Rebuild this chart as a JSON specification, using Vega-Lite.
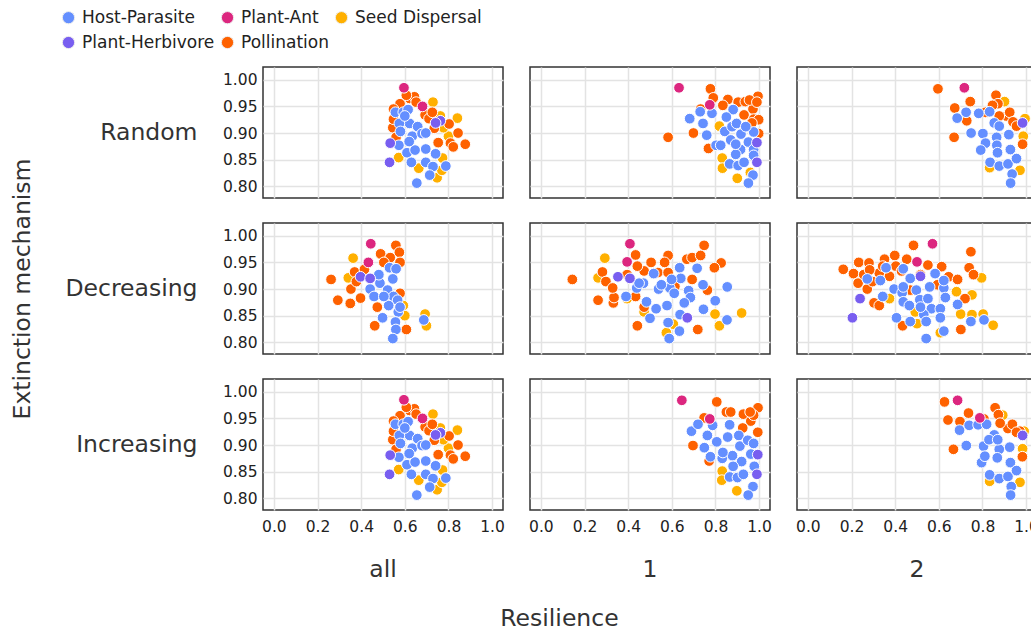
{
"$schema": "https://vega.github.io/schema/vega-lite/v6.json",
"background": "white",
"padding": {"left": 10, "top": 9, "right": 0, "bottom": 2},
"title": {"text": "Resilience", "orient": "bottom", "anchor": "middle", "dx": 35, "offset": 26, "font": "DejaVu Sans", "fontSize": 23.5, "fontWeight": "normal", "color": "#333"},
"datasets": {"pts": [
{"mech":"Random","col":"all","type":"Seed Dispersal","x":0.729,"y":0.958},
{"mech":"Random","col":"all","type":"Seed Dispersal","x":0.572,"y":0.854},
{"mech":"Random","col":"all","type":"Seed Dispersal","x":0.841,"y":0.928},
{"mech":"Random","col":"all","type":"Seed Dispersal","x":0.763,"y":0.932},
{"mech":"Random","col":"all","type":"Seed Dispersal","x":0.80,"y":0.894},
{"mech":"Random","col":"all","type":"Seed Dispersal","x":0.773,"y":0.853},
{"mech":"Random","col":"all","type":"Seed Dispersal","x":0.664,"y":0.834},
{"mech":"Random","col":"all","type":"Seed Dispersal","x":0.748,"y":0.816},
{"mech":"Random","col":"all","type":"Seed Dispersal","x":0.77,"y":0.83},
{"mech":"Random","col":"all","type":"Seed Dispersal","x":0.777,"y":0.91},
{"mech":"Random","col":"all","type":"Pollination","x":0.578,"y":0.955},
{"mech":"Random","col":"all","type":"Pollination","x":0.622,"y":0.965},
{"mech":"Random","col":"all","type":"Pollination","x":0.644,"y":0.968},
{"mech":"Random","col":"all","type":"Pollination","x":0.607,"y":0.971},
{"mech":"Random","col":"all","type":"Pollination","x":0.652,"y":0.958},
{"mech":"Random","col":"all","type":"Pollination","x":0.548,"y":0.945},
{"mech":"Random","col":"all","type":"Pollination","x":0.693,"y":0.934},
{"mech":"Random","col":"all","type":"Pollination","x":0.803,"y":0.917},
{"mech":"Random","col":"all","type":"Pollination","x":0.844,"y":0.90},
{"mech":"Random","col":"all","type":"Pollination","x":0.877,"y":0.879},
{"mech":"Random","col":"all","type":"Pollination","x":0.809,"y":0.881},
{"mech":"Random","col":"all","type":"Pollination","x":0.822,"y":0.874},
{"mech":"Random","col":"all","type":"Pollination","x":0.753,"y":0.882},
{"mech":"Random","col":"all","type":"Pollination","x":0.545,"y":0.91},
{"mech":"Random","col":"all","type":"Pollination","x":0.548,"y":0.926},
{"mech":"Random","col":"all","type":"Pollination","x":0.711,"y":0.927},
{"mech":"Random","col":"all","type":"Pollination","x":0.735,"y":0.909},
{"mech":"Random","col":"all","type":"Pollination","x":0.56,"y":0.892},
{"mech":"Random","col":"all","type":"Pollination","x":0.726,"y":0.939},
{"mech":"Random","col":"all","type":"Host-Parasite","x":0.557,"y":0.939},
{"mech":"Random","col":"all","type":"Host-Parasite","x":0.593,"y":0.939},
{"mech":"Random","col":"all","type":"Host-Parasite","x":0.615,"y":0.944},
{"mech":"Random","col":"all","type":"Host-Parasite","x":0.622,"y":0.918},
{"mech":"Random","col":"all","type":"Host-Parasite","x":0.575,"y":0.918},
{"mech":"Random","col":"all","type":"Host-Parasite","x":0.58,"y":0.903},
{"mech":"Random","col":"all","type":"Host-Parasite","x":0.659,"y":0.912},
{"mech":"Random","col":"all","type":"Host-Parasite","x":0.634,"y":0.894},
{"mech":"Random","col":"all","type":"Host-Parasite","x":0.679,"y":0.899},
{"mech":"Random","col":"all","type":"Host-Parasite","x":0.696,"y":0.90},
{"mech":"Random","col":"all","type":"Host-Parasite","x":0.573,"y":0.877},
{"mech":"Random","col":"all","type":"Host-Parasite","x":0.61,"y":0.863},
{"mech":"Random","col":"all","type":"Host-Parasite","x":0.647,"y":0.868},
{"mech":"Random","col":"all","type":"Host-Parasite","x":0.696,"y":0.87},
{"mech":"Random","col":"all","type":"Host-Parasite","x":0.741,"y":0.861},
{"mech":"Random","col":"all","type":"Host-Parasite","x":0.63,"y":0.845},
{"mech":"Random","col":"all","type":"Host-Parasite","x":0.696,"y":0.845},
{"mech":"Random","col":"all","type":"Host-Parasite","x":0.729,"y":0.837},
{"mech":"Random","col":"all","type":"Host-Parasite","x":0.788,"y":0.838},
{"mech":"Random","col":"all","type":"Host-Parasite","x":0.714,"y":0.821},
{"mech":"Random","col":"all","type":"Host-Parasite","x":0.655,"y":0.806},
{"mech":"Random","col":"all","type":"Host-Parasite","x":0.62,"y":0.884},
{"mech":"Random","col":"all","type":"Host-Parasite","x":0.60,"y":0.932},
{"mech":"Random","col":"all","type":"Plant-Ant","x":0.596,"y":0.985},
{"mech":"Random","col":"all","type":"Plant-Ant","x":0.681,"y":0.95},
{"mech":"Random","col":"all","type":"Plant-Herbivore","x":0.763,"y":0.923},
{"mech":"Random","col":"all","type":"Plant-Herbivore","x":0.741,"y":0.919},
{"mech":"Random","col":"all","type":"Plant-Herbivore","x":0.533,"y":0.881},
{"mech":"Random","col":"all","type":"Plant-Herbivore","x":0.53,"y":0.845},

{"mech":"Increasing","col":"all","type":"Seed Dispersal","x":0.729,"y":0.958},
{"mech":"Increasing","col":"all","type":"Seed Dispersal","x":0.572,"y":0.854},
{"mech":"Increasing","col":"all","type":"Seed Dispersal","x":0.841,"y":0.928},
{"mech":"Increasing","col":"all","type":"Seed Dispersal","x":0.763,"y":0.932},
{"mech":"Increasing","col":"all","type":"Seed Dispersal","x":0.80,"y":0.894},
{"mech":"Increasing","col":"all","type":"Seed Dispersal","x":0.773,"y":0.853},
{"mech":"Increasing","col":"all","type":"Seed Dispersal","x":0.664,"y":0.834},
{"mech":"Increasing","col":"all","type":"Seed Dispersal","x":0.748,"y":0.816},
{"mech":"Increasing","col":"all","type":"Seed Dispersal","x":0.77,"y":0.83},
{"mech":"Increasing","col":"all","type":"Seed Dispersal","x":0.777,"y":0.91},
{"mech":"Increasing","col":"all","type":"Pollination","x":0.578,"y":0.955},
{"mech":"Increasing","col":"all","type":"Pollination","x":0.622,"y":0.965},
{"mech":"Increasing","col":"all","type":"Pollination","x":0.644,"y":0.968},
{"mech":"Increasing","col":"all","type":"Pollination","x":0.607,"y":0.971},
{"mech":"Increasing","col":"all","type":"Pollination","x":0.652,"y":0.958},
{"mech":"Increasing","col":"all","type":"Pollination","x":0.548,"y":0.945},
{"mech":"Increasing","col":"all","type":"Pollination","x":0.693,"y":0.934},
{"mech":"Increasing","col":"all","type":"Pollination","x":0.803,"y":0.917},
{"mech":"Increasing","col":"all","type":"Pollination","x":0.844,"y":0.90},
{"mech":"Increasing","col":"all","type":"Pollination","x":0.877,"y":0.879},
{"mech":"Increasing","col":"all","type":"Pollination","x":0.809,"y":0.881},
{"mech":"Increasing","col":"all","type":"Pollination","x":0.822,"y":0.874},
{"mech":"Increasing","col":"all","type":"Pollination","x":0.753,"y":0.882},
{"mech":"Increasing","col":"all","type":"Pollination","x":0.545,"y":0.91},
{"mech":"Increasing","col":"all","type":"Pollination","x":0.548,"y":0.926},
{"mech":"Increasing","col":"all","type":"Pollination","x":0.711,"y":0.927},
{"mech":"Increasing","col":"all","type":"Pollination","x":0.735,"y":0.909},
{"mech":"Increasing","col":"all","type":"Pollination","x":0.56,"y":0.892},
{"mech":"Increasing","col":"all","type":"Pollination","x":0.726,"y":0.939},
{"mech":"Increasing","col":"all","type":"Host-Parasite","x":0.557,"y":0.939},
{"mech":"Increasing","col":"all","type":"Host-Parasite","x":0.593,"y":0.939},
{"mech":"Increasing","col":"all","type":"Host-Parasite","x":0.615,"y":0.944},
{"mech":"Increasing","col":"all","type":"Host-Parasite","x":0.622,"y":0.918},
{"mech":"Increasing","col":"all","type":"Host-Parasite","x":0.575,"y":0.918},
{"mech":"Increasing","col":"all","type":"Host-Parasite","x":0.58,"y":0.903},
{"mech":"Increasing","col":"all","type":"Host-Parasite","x":0.659,"y":0.912},
{"mech":"Increasing","col":"all","type":"Host-Parasite","x":0.634,"y":0.894},
{"mech":"Increasing","col":"all","type":"Host-Parasite","x":0.679,"y":0.899},
{"mech":"Increasing","col":"all","type":"Host-Parasite","x":0.696,"y":0.90},
{"mech":"Increasing","col":"all","type":"Host-Parasite","x":0.573,"y":0.877},
{"mech":"Increasing","col":"all","type":"Host-Parasite","x":0.61,"y":0.863},
{"mech":"Increasing","col":"all","type":"Host-Parasite","x":0.647,"y":0.868},
{"mech":"Increasing","col":"all","type":"Host-Parasite","x":0.696,"y":0.87},
{"mech":"Increasing","col":"all","type":"Host-Parasite","x":0.741,"y":0.861},
{"mech":"Increasing","col":"all","type":"Host-Parasite","x":0.63,"y":0.845},
{"mech":"Increasing","col":"all","type":"Host-Parasite","x":0.696,"y":0.845},
{"mech":"Increasing","col":"all","type":"Host-Parasite","x":0.729,"y":0.837},
{"mech":"Increasing","col":"all","type":"Host-Parasite","x":0.788,"y":0.838},
{"mech":"Increasing","col":"all","type":"Host-Parasite","x":0.714,"y":0.821},
{"mech":"Increasing","col":"all","type":"Host-Parasite","x":0.655,"y":0.806},
{"mech":"Increasing","col":"all","type":"Host-Parasite","x":0.62,"y":0.884},
{"mech":"Increasing","col":"all","type":"Host-Parasite","x":0.60,"y":0.932},
{"mech":"Increasing","col":"all","type":"Plant-Ant","x":0.596,"y":0.985},
{"mech":"Increasing","col":"all","type":"Plant-Ant","x":0.681,"y":0.95},
{"mech":"Increasing","col":"all","type":"Plant-Herbivore","x":0.763,"y":0.923},
{"mech":"Increasing","col":"all","type":"Plant-Herbivore","x":0.741,"y":0.919},
{"mech":"Increasing","col":"all","type":"Plant-Herbivore","x":0.533,"y":0.881},
{"mech":"Increasing","col":"all","type":"Plant-Herbivore","x":0.53,"y":0.845},

{"mech":"Random","col":"1","type":"Seed Dispersal","x":0.831,"y":0.853},
{"mech":"Random","col":"1","type":"Seed Dispersal","x":0.832,"y":0.834},
{"mech":"Random","col":"1","type":"Seed Dispersal","x":0.9,"y":0.815},
{"mech":"Random","col":"1","type":"Seed Dispersal","x":0.818,"y":0.913},
{"mech":"Random","col":"1","type":"Seed Dispersal","x":0.96,"y":0.826},
{"mech":"Random","col":"1","type":"Pollination","x":0.583,"y":0.892},
{"mech":"Random","col":"1","type":"Pollination","x":0.699,"y":0.90},
{"mech":"Random","col":"1","type":"Pollination","x":0.777,"y":0.983},
{"mech":"Random","col":"1","type":"Pollination","x":0.79,"y":0.966},
{"mech":"Random","col":"1","type":"Pollination","x":0.857,"y":0.963},
{"mech":"Random","col":"1","type":"Pollination","x":0.904,"y":0.958},
{"mech":"Random","col":"1","type":"Pollination","x":0.937,"y":0.959},
{"mech":"Random","col":"1","type":"Pollination","x":0.975,"y":0.955},
{"mech":"Random","col":"1","type":"Pollination","x":0.995,"y":0.969},
{"mech":"Random","col":"1","type":"Pollination","x":0.972,"y":0.945},
{"mech":"Random","col":"1","type":"Pollination","x":0.732,"y":0.945},
{"mech":"Random","col":"1","type":"Pollination","x":0.931,"y":0.934},
{"mech":"Random","col":"1","type":"Pollination","x":0.975,"y":0.926},
{"mech":"Random","col":"1","type":"Pollination","x":0.998,"y":0.925},
{"mech":"Random","col":"1","type":"Pollination","x":0.998,"y":0.899},
{"mech":"Random","col":"1","type":"Pollination","x":0.768,"y":0.871},
{"mech":"Random","col":"1","type":"Pollination","x":0.967,"y":0.919},
{"mech":"Random","col":"1","type":"Pollination","x":0.834,"y":0.952},
{"mech":"Random","col":"1","type":"Pollination","x":0.956,"y":0.962},
{"mech":"Random","col":"1","type":"Pollination","x":0.99,"y":0.958},
{"mech":"Random","col":"1","type":"Host-Parasite","x":0.682,"y":0.927},
{"mech":"Random","col":"1","type":"Host-Parasite","x":0.73,"y":0.94},
{"mech":"Random","col":"1","type":"Host-Parasite","x":0.743,"y":0.918},
{"mech":"Random","col":"1","type":"Host-Parasite","x":0.784,"y":0.937},
{"mech":"Random","col":"1","type":"Host-Parasite","x":0.76,"y":0.896},
{"mech":"Random","col":"1","type":"Host-Parasite","x":0.881,"y":0.944},
{"mech":"Random","col":"1","type":"Host-Parasite","x":0.803,"y":0.877},
{"mech":"Random","col":"1","type":"Host-Parasite","x":0.824,"y":0.877},
{"mech":"Random","col":"1","type":"Host-Parasite","x":0.843,"y":0.903},
{"mech":"Random","col":"1","type":"Host-Parasite","x":0.876,"y":0.912},
{"mech":"Random","col":"1","type":"Host-Parasite","x":0.897,"y":0.918},
{"mech":"Random","col":"1","type":"Host-Parasite","x":0.917,"y":0.898},
{"mech":"Random","col":"1","type":"Host-Parasite","x":0.975,"y":0.902},
{"mech":"Random","col":"1","type":"Host-Parasite","x":0.939,"y":0.912},
{"mech":"Random","col":"1","type":"Host-Parasite","x":0.951,"y":0.883},
{"mech":"Random","col":"1","type":"Host-Parasite","x":0.915,"y":0.869},
{"mech":"Random","col":"1","type":"Host-Parasite","x":0.975,"y":0.869},
{"mech":"Random","col":"1","type":"Host-Parasite","x":0.975,"y":0.858},
{"mech":"Random","col":"1","type":"Host-Parasite","x":0.893,"y":0.86},
{"mech":"Random","col":"1","type":"Host-Parasite","x":0.87,"y":0.887},
{"mech":"Random","col":"1","type":"Host-Parasite","x":0.865,"y":0.842},
{"mech":"Random","col":"1","type":"Host-Parasite","x":0.904,"y":0.839},
{"mech":"Random","col":"1","type":"Host-Parasite","x":0.931,"y":0.845},
{"mech":"Random","col":"1","type":"Host-Parasite","x":0.972,"y":0.821},
{"mech":"Random","col":"1","type":"Host-Parasite","x":0.951,"y":0.806},
{"mech":"Random","col":"1","type":"Host-Parasite","x":0.893,"y":0.879},
{"mech":"Random","col":"1","type":"Host-Parasite","x":0.85,"y":0.93},
{"mech":"Random","col":"1","type":"Plant-Ant","x":0.633,"y":0.985},
{"mech":"Random","col":"1","type":"Plant-Ant","x":0.774,"y":0.953},
{"mech":"Random","col":"1","type":"Plant-Herbivore","x":0.99,"y":0.882},
{"mech":"Random","col":"1","type":"Plant-Herbivore","x":0.99,"y":0.845},

{"mech":"Increasing","col":"1","type":"Seed Dispersal","x":0.831,"y":0.851},
{"mech":"Increasing","col":"1","type":"Seed Dispersal","x":0.829,"y":0.834},
{"mech":"Increasing","col":"1","type":"Seed Dispersal","x":0.898,"y":0.814},
{"mech":"Increasing","col":"1","type":"Pollination","x":0.806,"y":0.981},
{"mech":"Increasing","col":"1","type":"Pollination","x":0.697,"y":0.899},
{"mech":"Increasing","col":"1","type":"Pollination","x":0.771,"y":0.87},
{"mech":"Increasing","col":"1","type":"Pollination","x":0.748,"y":0.951},
{"mech":"Increasing","col":"1","type":"Pollination","x":0.85,"y":0.962},
{"mech":"Increasing","col":"1","type":"Pollination","x":0.87,"y":0.962},
{"mech":"Increasing","col":"1","type":"Pollination","x":0.928,"y":0.958},
{"mech":"Increasing","col":"1","type":"Pollination","x":0.962,"y":0.945},
{"mech":"Increasing","col":"1","type":"Pollination","x":0.995,"y":0.97},
{"mech":"Increasing","col":"1","type":"Pollination","x":0.975,"y":0.956},
{"mech":"Increasing","col":"1","type":"Pollination","x":0.994,"y":0.924},
{"mech":"Increasing","col":"1","type":"Pollination","x":0.925,"y":0.932},
{"mech":"Increasing","col":"1","type":"Pollination","x":0.959,"y":0.962},
{"mech":"Increasing","col":"1","type":"Host-Parasite","x":0.69,"y":0.926},
{"mech":"Increasing","col":"1","type":"Host-Parasite","x":0.72,"y":0.939},
{"mech":"Increasing","col":"1","type":"Host-Parasite","x":0.763,"y":0.918},
{"mech":"Increasing","col":"1","type":"Host-Parasite","x":0.787,"y":0.937},
{"mech":"Increasing","col":"1","type":"Host-Parasite","x":0.749,"y":0.895},
{"mech":"Increasing","col":"1","type":"Host-Parasite","x":0.865,"y":0.938},
{"mech":"Increasing","col":"1","type":"Host-Parasite","x":0.806,"y":0.906},
{"mech":"Increasing","col":"1","type":"Host-Parasite","x":0.831,"y":0.875},
{"mech":"Increasing","col":"1","type":"Host-Parasite","x":0.856,"y":0.915},
{"mech":"Increasing","col":"1","type":"Host-Parasite","x":0.907,"y":0.918},
{"mech":"Increasing","col":"1","type":"Host-Parasite","x":0.912,"y":0.898},
{"mech":"Increasing","col":"1","type":"Host-Parasite","x":0.948,"y":0.909},
{"mech":"Increasing","col":"1","type":"Host-Parasite","x":0.975,"y":0.903},
{"mech":"Increasing","col":"1","type":"Host-Parasite","x":0.878,"y":0.88},
{"mech":"Increasing","col":"1","type":"Host-Parasite","x":0.92,"y":0.869},
{"mech":"Increasing","col":"1","type":"Host-Parasite","x":0.962,"y":0.883},
{"mech":"Increasing","col":"1","type":"Host-Parasite","x":0.978,"y":0.86},
{"mech":"Increasing","col":"1","type":"Host-Parasite","x":0.881,"y":0.86},
{"mech":"Increasing","col":"1","type":"Host-Parasite","x":0.865,"y":0.84},
{"mech":"Increasing","col":"1","type":"Host-Parasite","x":0.901,"y":0.839},
{"mech":"Increasing","col":"1","type":"Host-Parasite","x":0.928,"y":0.845},
{"mech":"Increasing","col":"1","type":"Host-Parasite","x":0.972,"y":0.822},
{"mech":"Increasing","col":"1","type":"Host-Parasite","x":0.95,"y":0.806},
{"mech":"Increasing","col":"1","type":"Host-Parasite","x":0.777,"y":0.878},
{"mech":"Increasing","col":"1","type":"Host-Parasite","x":0.834,"y":0.886},
{"mech":"Increasing","col":"1","type":"Plant-Ant","x":0.646,"y":0.984},
{"mech":"Increasing","col":"1","type":"Plant-Ant","x":0.774,"y":0.949},
{"mech":"Increasing","col":"1","type":"Plant-Herbivore","x":0.994,"y":0.882},
{"mech":"Increasing","col":"1","type":"Plant-Herbivore","x":0.99,"y":0.845},

{"mech":"Random","col":"2","type":"Seed Dispersal","x":0.901,"y":0.959},
{"mech":"Random","col":"2","type":"Seed Dispersal","x":0.987,"y":0.894},
{"mech":"Random","col":"2","type":"Seed Dispersal","x":0.833,"y":0.835},
{"mech":"Random","col":"2","type":"Seed Dispersal","x":0.972,"y":0.83},
{"mech":"Random","col":"2","type":"Seed Dispersal","x":0.995,"y":0.927},
{"mech":"Random","col":"2","type":"Pollination","x":0.596,"y":0.983},
{"mech":"Random","col":"2","type":"Pollination","x":0.67,"y":0.892},
{"mech":"Random","col":"2","type":"Pollination","x":0.673,"y":0.947},
{"mech":"Random","col":"2","type":"Pollination","x":0.744,"y":0.959},
{"mech":"Random","col":"2","type":"Pollination","x":0.862,"y":0.971},
{"mech":"Random","col":"2","type":"Pollination","x":0.871,"y":0.955},
{"mech":"Random","col":"2","type":"Pollination","x":0.909,"y":0.932},
{"mech":"Random","col":"2","type":"Pollination","x":0.925,"y":0.939},
{"mech":"Random","col":"2","type":"Pollination","x":0.94,"y":0.921},
{"mech":"Random","col":"2","type":"Pollination","x":0.984,"y":0.879},
{"mech":"Random","col":"2","type":"Pollination","x":0.956,"y":0.913},
{"mech":"Random","col":"2","type":"Pollination","x":0.728,"y":0.923},
{"mech":"Random","col":"2","type":"Pollination","x":0.814,"y":0.939},
{"mech":"Random","col":"2","type":"Pollination","x":0.846,"y":0.952},
{"mech":"Random","col":"2","type":"Pollination","x":0.877,"y":0.932},
{"mech":"Random","col":"2","type":"Host-Parasite","x":0.684,"y":0.928},
{"mech":"Random","col":"2","type":"Host-Parasite","x":0.725,"y":0.939},
{"mech":"Random","col":"2","type":"Host-Parasite","x":0.783,"y":0.937},
{"mech":"Random","col":"2","type":"Host-Parasite","x":0.833,"y":0.94},
{"mech":"Random","col":"2","type":"Host-Parasite","x":0.854,"y":0.919},
{"mech":"Random","col":"2","type":"Host-Parasite","x":0.748,"y":0.90},
{"mech":"Random","col":"2","type":"Host-Parasite","x":0.802,"y":0.899},
{"mech":"Random","col":"2","type":"Host-Parasite","x":0.814,"y":0.881},
{"mech":"Random","col":"2","type":"Host-Parasite","x":0.865,"y":0.892},
{"mech":"Random","col":"2","type":"Host-Parasite","x":0.866,"y":0.877},
{"mech":"Random","col":"2","type":"Host-Parasite","x":0.921,"y":0.897},
{"mech":"Random","col":"2","type":"Host-Parasite","x":0.792,"y":0.868},
{"mech":"Random","col":"2","type":"Host-Parasite","x":0.869,"y":0.863},
{"mech":"Random","col":"2","type":"Host-Parasite","x":0.928,"y":0.869},
{"mech":"Random","col":"2","type":"Host-Parasite","x":0.835,"y":0.845},
{"mech":"Random","col":"2","type":"Host-Parasite","x":0.877,"y":0.838},
{"mech":"Random","col":"2","type":"Host-Parasite","x":0.917,"y":0.842},
{"mech":"Random","col":"2","type":"Host-Parasite","x":0.956,"y":0.852},
{"mech":"Random","col":"2","type":"Host-Parasite","x":0.936,"y":0.823},
{"mech":"Random","col":"2","type":"Host-Parasite","x":0.929,"y":0.806},
{"mech":"Random","col":"2","type":"Host-Parasite","x":0.877,"y":0.913},
{"mech":"Random","col":"2","type":"Plant-Ant","x":0.717,"y":0.985},
{"mech":"Random","col":"2","type":"Plant-Herbivore","x":0.984,"y":0.919},

{"mech":"Increasing","col":"2","type":"Seed Dispersal","x":0.984,"y":0.893},
{"mech":"Increasing","col":"2","type":"Seed Dispersal","x":0.833,"y":0.832},
{"mech":"Increasing","col":"2","type":"Seed Dispersal","x":0.972,"y":0.83},
{"mech":"Increasing","col":"2","type":"Seed Dispersal","x":0.893,"y":0.956},
{"mech":"Increasing","col":"2","type":"Seed Dispersal","x":0.991,"y":0.926},
{"mech":"Increasing","col":"2","type":"Pollination","x":0.626,"y":0.981},
{"mech":"Increasing","col":"2","type":"Pollination","x":0.642,"y":0.947},
{"mech":"Increasing","col":"2","type":"Pollination","x":0.667,"y":0.892},
{"mech":"Increasing","col":"2","type":"Pollination","x":0.736,"y":0.96},
{"mech":"Increasing","col":"2","type":"Pollination","x":0.858,"y":0.97},
{"mech":"Increasing","col":"2","type":"Pollination","x":0.873,"y":0.957},
{"mech":"Increasing","col":"2","type":"Pollination","x":0.917,"y":0.931},
{"mech":"Increasing","col":"2","type":"Pollination","x":0.937,"y":0.939},
{"mech":"Increasing","col":"2","type":"Pollination","x":0.983,"y":0.878},
{"mech":"Increasing","col":"2","type":"Pollination","x":0.972,"y":0.926},
{"mech":"Increasing","col":"2","type":"Pollination","x":0.697,"y":0.944},
{"mech":"Increasing","col":"2","type":"Pollination","x":0.807,"y":0.949},
{"mech":"Increasing","col":"2","type":"Pollination","x":0.881,"y":0.941},
{"mech":"Increasing","col":"2","type":"Pollination","x":0.956,"y":0.924},
{"mech":"Increasing","col":"2","type":"Host-Parasite","x":0.695,"y":0.928},
{"mech":"Increasing","col":"2","type":"Host-Parasite","x":0.739,"y":0.937},
{"mech":"Increasing","col":"2","type":"Host-Parasite","x":0.78,"y":0.938},
{"mech":"Increasing","col":"2","type":"Host-Parasite","x":0.819,"y":0.939},
{"mech":"Increasing","col":"2","type":"Host-Parasite","x":0.854,"y":0.919},
{"mech":"Increasing","col":"2","type":"Host-Parasite","x":0.726,"y":0.899},
{"mech":"Increasing","col":"2","type":"Host-Parasite","x":0.805,"y":0.898},
{"mech":"Increasing","col":"2","type":"Host-Parasite","x":0.796,"y":0.867},
{"mech":"Increasing","col":"2","type":"Host-Parasite","x":0.877,"y":0.892},
{"mech":"Increasing","col":"2","type":"Host-Parasite","x":0.868,"y":0.876},
{"mech":"Increasing","col":"2","type":"Host-Parasite","x":0.925,"y":0.896},
{"mech":"Increasing","col":"2","type":"Host-Parasite","x":0.811,"y":0.879},
{"mech":"Increasing","col":"2","type":"Host-Parasite","x":0.83,"y":0.91},
{"mech":"Increasing","col":"2","type":"Host-Parasite","x":0.928,"y":0.867},
{"mech":"Increasing","col":"2","type":"Host-Parasite","x":0.833,"y":0.844},
{"mech":"Increasing","col":"2","type":"Host-Parasite","x":0.877,"y":0.837},
{"mech":"Increasing","col":"2","type":"Host-Parasite","x":0.917,"y":0.841},
{"mech":"Increasing","col":"2","type":"Host-Parasite","x":0.956,"y":0.852},
{"mech":"Increasing","col":"2","type":"Host-Parasite","x":0.932,"y":0.822},
{"mech":"Increasing","col":"2","type":"Host-Parasite","x":0.929,"y":0.806},
{"mech":"Increasing","col":"2","type":"Host-Parasite","x":0.87,"y":0.91},
{"mech":"Increasing","col":"2","type":"Plant-Ant","x":0.686,"y":0.984},
{"mech":"Increasing","col":"2","type":"Plant-Ant","x":0.788,"y":0.951},
{"mech":"Increasing","col":"2","type":"Plant-Herbivore","x":0.984,"y":0.918},

{"mech":"Decreasing","col":"all","type":"Seed Dispersal","x":0.363,"y":0.958},
{"mech":"Decreasing","col":"all","type":"Seed Dispersal","x":0.341,"y":0.921},
{"mech":"Decreasing","col":"all","type":"Seed Dispersal","x":0.693,"y":0.853},
{"mech":"Decreasing","col":"all","type":"Seed Dispersal","x":0.699,"y":0.831},
{"mech":"Decreasing","col":"all","type":"Seed Dispersal","x":0.593,"y":0.869},
{"mech":"Decreasing","col":"all","type":"Seed Dispersal","x":0.60,"y":0.85},
{"mech":"Decreasing","col":"all","type":"Pollination","x":0.262,"y":0.918},
{"mech":"Decreasing","col":"all","type":"Pollination","x":0.293,"y":0.879},
{"mech":"Decreasing","col":"all","type":"Pollination","x":0.35,"y":0.873},
{"mech":"Decreasing","col":"all","type":"Pollination","x":0.397,"y":0.883},
{"mech":"Decreasing","col":"all","type":"Pollination","x":0.353,"y":0.90},
{"mech":"Decreasing","col":"all","type":"Pollination","x":0.37,"y":0.932},
{"mech":"Decreasing","col":"all","type":"Pollination","x":0.378,"y":0.914},
{"mech":"Decreasing","col":"all","type":"Pollination","x":0.462,"y":0.831},
{"mech":"Decreasing","col":"all","type":"Pollination","x":0.559,"y":0.982},
{"mech":"Decreasing","col":"all","type":"Pollination","x":0.575,"y":0.969},
{"mech":"Decreasing","col":"all","type":"Pollination","x":0.489,"y":0.966},
{"mech":"Decreasing","col":"all","type":"Pollination","x":0.533,"y":0.959},
{"mech":"Decreasing","col":"all","type":"Pollination","x":0.607,"y":0.824},
{"mech":"Decreasing","col":"all","type":"Pollination","x":0.578,"y":0.95},
{"mech":"Decreasing","col":"all","type":"Pollination","x":0.504,"y":0.95},
{"mech":"Decreasing","col":"all","type":"Pollination","x":0.474,"y":0.866},
{"mech":"Decreasing","col":"all","type":"Pollination","x":0.578,"y":0.892},
{"mech":"Decreasing","col":"all","type":"Pollination","x":0.415,"y":0.937},
{"mech":"Decreasing","col":"all","type":"Host-Parasite","x":0.53,"y":0.94},
{"mech":"Decreasing","col":"all","type":"Host-Parasite","x":0.56,"y":0.938},
{"mech":"Decreasing","col":"all","type":"Host-Parasite","x":0.545,"y":0.919},
{"mech":"Decreasing","col":"all","type":"Host-Parasite","x":0.486,"y":0.911},
{"mech":"Decreasing","col":"all","type":"Host-Parasite","x":0.441,"y":0.90},
{"mech":"Decreasing","col":"all","type":"Host-Parasite","x":0.459,"y":0.886},
{"mech":"Decreasing","col":"all","type":"Host-Parasite","x":0.521,"y":0.898},
{"mech":"Decreasing","col":"all","type":"Host-Parasite","x":0.548,"y":0.886},
{"mech":"Decreasing","col":"all","type":"Host-Parasite","x":0.567,"y":0.879},
{"mech":"Decreasing","col":"all","type":"Host-Parasite","x":0.526,"y":0.869},
{"mech":"Decreasing","col":"all","type":"Host-Parasite","x":0.504,"y":0.886},
{"mech":"Decreasing","col":"all","type":"Host-Parasite","x":0.57,"y":0.857},
{"mech":"Decreasing","col":"all","type":"Host-Parasite","x":0.498,"y":0.846},
{"mech":"Decreasing","col":"all","type":"Host-Parasite","x":0.557,"y":0.838},
{"mech":"Decreasing","col":"all","type":"Host-Parasite","x":0.559,"y":0.824},
{"mech":"Decreasing","col":"all","type":"Host-Parasite","x":0.545,"y":0.807},
{"mech":"Decreasing","col":"all","type":"Host-Parasite","x":0.687,"y":0.842},
{"mech":"Decreasing","col":"all","type":"Host-Parasite","x":0.481,"y":0.927},
{"mech":"Decreasing","col":"all","type":"Host-Parasite","x":0.578,"y":0.866},
{"mech":"Decreasing","col":"all","type":"Plant-Ant","x":0.444,"y":0.985},
{"mech":"Decreasing","col":"all","type":"Plant-Ant","x":0.433,"y":0.95},
{"mech":"Decreasing","col":"all","type":"Plant-Herbivore","x":0.397,"y":0.923},
{"mech":"Decreasing","col":"all","type":"Plant-Herbivore","x":0.441,"y":0.92},

{"mech":"Decreasing","col":"1","type":"Seed Dispersal","x":0.293,"y":0.958},
{"mech":"Decreasing","col":"1","type":"Seed Dispersal","x":0.262,"y":0.921},
{"mech":"Decreasing","col":"1","type":"Seed Dispersal","x":0.92,"y":0.855},
{"mech":"Decreasing","col":"1","type":"Seed Dispersal","x":0.798,"y":0.853},
{"mech":"Decreasing","col":"1","type":"Seed Dispersal","x":0.818,"y":0.831},
{"mech":"Decreasing","col":"1","type":"Seed Dispersal","x":0.575,"y":0.818},
{"mech":"Decreasing","col":"1","type":"Seed Dispersal","x":0.607,"y":0.834},
{"mech":"Decreasing","col":"1","type":"Seed Dispersal","x":0.395,"y":0.882},
{"mech":"Decreasing","col":"1","type":"Seed Dispersal","x":0.473,"y":0.857},
{"mech":"Decreasing","col":"1","type":"Pollination","x":0.144,"y":0.918},
{"mech":"Decreasing","col":"1","type":"Pollination","x":0.282,"y":0.932},
{"mech":"Decreasing","col":"1","type":"Pollination","x":0.298,"y":0.914},
{"mech":"Decreasing","col":"1","type":"Pollination","x":0.262,"y":0.879},
{"mech":"Decreasing","col":"1","type":"Pollination","x":0.332,"y":0.874},
{"mech":"Decreasing","col":"1","type":"Pollination","x":0.335,"y":0.884},
{"mech":"Decreasing","col":"1","type":"Pollination","x":0.329,"y":0.902},
{"mech":"Decreasing","col":"1","type":"Pollination","x":0.442,"y":0.831},
{"mech":"Decreasing","col":"1","type":"Pollination","x":0.434,"y":0.964},
{"mech":"Decreasing","col":"1","type":"Pollination","x":0.505,"y":0.95},
{"mech":"Decreasing","col":"1","type":"Pollination","x":0.583,"y":0.963},
{"mech":"Decreasing","col":"1","type":"Pollination","x":0.669,"y":0.956},
{"mech":"Decreasing","col":"1","type":"Pollination","x":0.693,"y":0.959},
{"mech":"Decreasing","col":"1","type":"Pollination","x":0.748,"y":0.982},
{"mech":"Decreasing","col":"1","type":"Pollination","x":0.732,"y":0.963},
{"mech":"Decreasing","col":"1","type":"Pollination","x":0.826,"y":0.949},
{"mech":"Decreasing","col":"1","type":"Pollination","x":0.795,"y":0.94},
{"mech":"Decreasing","col":"1","type":"Pollination","x":0.763,"y":0.898},
{"mech":"Decreasing","col":"1","type":"Pollination","x":0.719,"y":0.824},
{"mech":"Decreasing","col":"1","type":"Pollination","x":0.395,"y":0.927},
{"mech":"Decreasing","col":"1","type":"Pollination","x":0.473,"y":0.934},
{"mech":"Decreasing","col":"1","type":"Pollination","x":0.536,"y":0.931},
{"mech":"Decreasing","col":"1","type":"Pollination","x":0.583,"y":0.931},
{"mech":"Decreasing","col":"1","type":"Pollination","x":0.614,"y":0.905},
{"mech":"Decreasing","col":"1","type":"Pollination","x":0.473,"y":0.866},
{"mech":"Decreasing","col":"1","type":"Pollination","x":0.693,"y":0.918},
{"mech":"Decreasing","col":"1","type":"Pollination","x":0.434,"y":0.886},
{"mech":"Decreasing","col":"1","type":"Pollination","x":0.567,"y":0.95},
{"mech":"Decreasing","col":"1","type":"Pollination","x":0.442,"y":0.943},
{"mech":"Decreasing","col":"1","type":"Host-Parasite","x":0.636,"y":0.94},
{"mech":"Decreasing","col":"1","type":"Host-Parasite","x":0.716,"y":0.939},
{"mech":"Decreasing","col":"1","type":"Host-Parasite","x":0.641,"y":0.92},
{"mech":"Decreasing","col":"1","type":"Host-Parasite","x":0.517,"y":0.929},
{"mech":"Decreasing","col":"1","type":"Host-Parasite","x":0.47,"y":0.911},
{"mech":"Decreasing","col":"1","type":"Host-Parasite","x":0.439,"y":0.902},
{"mech":"Decreasing","col":"1","type":"Host-Parasite","x":0.39,"y":0.886},
{"mech":"Decreasing","col":"1","type":"Host-Parasite","x":0.539,"y":0.90},
{"mech":"Decreasing","col":"1","type":"Host-Parasite","x":0.591,"y":0.902},
{"mech":"Decreasing","col":"1","type":"Host-Parasite","x":0.611,"y":0.892},
{"mech":"Decreasing","col":"1","type":"Host-Parasite","x":0.677,"y":0.897},
{"mech":"Decreasing","col":"1","type":"Host-Parasite","x":0.685,"y":0.884},
{"mech":"Decreasing","col":"1","type":"Host-Parasite","x":0.484,"y":0.876},
{"mech":"Decreasing","col":"1","type":"Host-Parasite","x":0.528,"y":0.863},
{"mech":"Decreasing","col":"1","type":"Host-Parasite","x":0.578,"y":0.869},
{"mech":"Decreasing","col":"1","type":"Host-Parasite","x":0.657,"y":0.874},
{"mech":"Decreasing","col":"1","type":"Host-Parasite","x":0.638,"y":0.852},
{"mech":"Decreasing","col":"1","type":"Host-Parasite","x":0.743,"y":0.908},
{"mech":"Decreasing","col":"1","type":"Host-Parasite","x":0.799,"y":0.878},
{"mech":"Decreasing","col":"1","type":"Host-Parasite","x":0.745,"y":0.862},
{"mech":"Decreasing","col":"1","type":"Host-Parasite","x":0.854,"y":0.904},
{"mech":"Decreasing","col":"1","type":"Host-Parasite","x":0.853,"y":0.842},
{"mech":"Decreasing","col":"1","type":"Host-Parasite","x":0.50,"y":0.845},
{"mech":"Decreasing","col":"1","type":"Host-Parasite","x":0.583,"y":0.837},
{"mech":"Decreasing","col":"1","type":"Host-Parasite","x":0.635,"y":0.821},
{"mech":"Decreasing","col":"1","type":"Host-Parasite","x":0.588,"y":0.807},
{"mech":"Decreasing","col":"1","type":"Host-Parasite","x":0.599,"y":0.918},
{"mech":"Decreasing","col":"1","type":"Host-Parasite","x":0.552,"y":0.908},
{"mech":"Decreasing","col":"1","type":"Host-Parasite","x":0.45,"y":0.911},
{"mech":"Decreasing","col":"1","type":"Plant-Ant","x":0.408,"y":0.985},
{"mech":"Decreasing","col":"1","type":"Plant-Ant","x":0.395,"y":0.951},
{"mech":"Decreasing","col":"1","type":"Plant-Herbivore","x":0.353,"y":0.923},
{"mech":"Decreasing","col":"1","type":"Plant-Herbivore","x":0.408,"y":0.92},
{"mech":"Decreasing","col":"1","type":"Plant-Herbivore","x":0.671,"y":0.846},

{"mech":"Decreasing","col":"2","type":"Seed Dispersal","x":0.796,"y":0.921},
{"mech":"Decreasing","col":"2","type":"Seed Dispersal","x":0.752,"y":0.889},
{"mech":"Decreasing","col":"2","type":"Seed Dispersal","x":0.681,"y":0.895},
{"mech":"Decreasing","col":"2","type":"Seed Dispersal","x":0.70,"y":0.853},
{"mech":"Decreasing","col":"2","type":"Seed Dispersal","x":0.752,"y":0.852},
{"mech":"Decreasing","col":"2","type":"Seed Dispersal","x":0.803,"y":0.853},
{"mech":"Decreasing","col":"2","type":"Seed Dispersal","x":0.849,"y":0.832},
{"mech":"Decreasing","col":"2","type":"Seed Dispersal","x":0.607,"y":0.818},
{"mech":"Decreasing","col":"2","type":"Seed Dispersal","x":0.50,"y":0.835},
{"mech":"Decreasing","col":"2","type":"Seed Dispersal","x":0.374,"y":0.882},
{"mech":"Decreasing","col":"2","type":"Seed Dispersal","x":0.492,"y":0.857},
{"mech":"Decreasing","col":"2","type":"Pollination","x":0.484,"y":0.982},
{"mech":"Decreasing","col":"2","type":"Pollination","x":0.747,"y":0.97},
{"mech":"Decreasing","col":"2","type":"Pollination","x":0.739,"y":0.94},
{"mech":"Decreasing","col":"2","type":"Pollination","x":0.759,"y":0.927},
{"mech":"Decreasing","col":"2","type":"Pollination","x":0.162,"y":0.937},
{"mech":"Decreasing","col":"2","type":"Pollination","x":0.209,"y":0.929},
{"mech":"Decreasing","col":"2","type":"Pollination","x":0.233,"y":0.95},
{"mech":"Decreasing","col":"2","type":"Pollination","x":0.28,"y":0.949},
{"mech":"Decreasing","col":"2","type":"Pollination","x":0.23,"y":0.911},
{"mech":"Decreasing","col":"2","type":"Pollination","x":0.272,"y":0.90},
{"mech":"Decreasing","col":"2","type":"Pollination","x":0.303,"y":0.874},
{"mech":"Decreasing","col":"2","type":"Pollination","x":0.327,"y":0.869},
{"mech":"Decreasing","col":"2","type":"Pollination","x":0.351,"y":0.956},
{"mech":"Decreasing","col":"2","type":"Pollination","x":0.398,"y":0.963},
{"mech":"Decreasing","col":"2","type":"Pollination","x":0.403,"y":0.943},
{"mech":"Decreasing","col":"2","type":"Pollination","x":0.453,"y":0.956},
{"mech":"Decreasing","col":"2","type":"Pollination","x":0.55,"y":0.945},
{"mech":"Decreasing","col":"2","type":"Pollination","x":0.613,"y":0.942},
{"mech":"Decreasing","col":"2","type":"Pollination","x":0.645,"y":0.923},
{"mech":"Decreasing","col":"2","type":"Pollination","x":0.686,"y":0.918},
{"mech":"Decreasing","col":"2","type":"Pollination","x":0.72,"y":0.882},
{"mech":"Decreasing","col":"2","type":"Pollination","x":0.701,"y":0.824},
{"mech":"Decreasing","col":"2","type":"Pollination","x":0.434,"y":0.831},
{"mech":"Decreasing","col":"2","type":"Pollination","x":0.256,"y":0.927},
{"mech":"Decreasing","col":"2","type":"Pollination","x":0.327,"y":0.93},
{"mech":"Decreasing","col":"2","type":"Pollination","x":0.296,"y":0.914},
{"mech":"Decreasing","col":"2","type":"Pollination","x":0.374,"y":0.924},
{"mech":"Decreasing","col":"2","type":"Pollination","x":0.429,"y":0.934},
{"mech":"Decreasing","col":"2","type":"Pollination","x":0.516,"y":0.927},
{"mech":"Decreasing","col":"2","type":"Pollination","x":0.594,"y":0.908},
{"mech":"Decreasing","col":"2","type":"Pollination","x":0.469,"y":0.898},
{"mech":"Decreasing","col":"2","type":"Pollination","x":0.343,"y":0.943},
{"mech":"Decreasing","col":"2","type":"Pollination","x":0.283,"y":0.936},
{"mech":"Decreasing","col":"2","type":"Host-Parasite","x":0.358,"y":0.94},
{"mech":"Decreasing","col":"2","type":"Host-Parasite","x":0.272,"y":0.919},
{"mech":"Decreasing","col":"2","type":"Host-Parasite","x":0.332,"y":0.916},
{"mech":"Decreasing","col":"2","type":"Host-Parasite","x":0.437,"y":0.938},
{"mech":"Decreasing","col":"2","type":"Host-Parasite","x":0.469,"y":0.92},
{"mech":"Decreasing","col":"2","type":"Host-Parasite","x":0.583,"y":0.929},
{"mech":"Decreasing","col":"2","type":"Host-Parasite","x":0.395,"y":0.90},
{"mech":"Decreasing","col":"2","type":"Host-Parasite","x":0.343,"y":0.886},
{"mech":"Decreasing","col":"2","type":"Host-Parasite","x":0.432,"y":0.893},
{"mech":"Decreasing","col":"2","type":"Host-Parasite","x":0.497,"y":0.898},
{"mech":"Decreasing","col":"2","type":"Host-Parasite","x":0.558,"y":0.904},
{"mech":"Decreasing","col":"2","type":"Host-Parasite","x":0.623,"y":0.902},
{"mech":"Decreasing","col":"2","type":"Host-Parasite","x":0.63,"y":0.884},
{"mech":"Decreasing","col":"2","type":"Host-Parasite","x":0.437,"y":0.876},
{"mech":"Decreasing","col":"2","type":"Host-Parasite","x":0.465,"y":0.869},
{"mech":"Decreasing","col":"2","type":"Host-Parasite","x":0.513,"y":0.88},
{"mech":"Decreasing","col":"2","type":"Host-Parasite","x":0.55,"y":0.882},
{"mech":"Decreasing","col":"2","type":"Host-Parasite","x":0.566,"y":0.863},
{"mech":"Decreasing","col":"2","type":"Host-Parasite","x":0.607,"y":0.863},
{"mech":"Decreasing","col":"2","type":"Host-Parasite","x":0.531,"y":0.852},
{"mech":"Decreasing","col":"2","type":"Host-Parasite","x":0.607,"y":0.846},
{"mech":"Decreasing","col":"2","type":"Host-Parasite","x":0.686,"y":0.871},
{"mech":"Decreasing","col":"2","type":"Host-Parasite","x":0.406,"y":0.846},
{"mech":"Decreasing","col":"2","type":"Host-Parasite","x":0.469,"y":0.839},
{"mech":"Decreasing","col":"2","type":"Host-Parasite","x":0.542,"y":0.839},
{"mech":"Decreasing","col":"2","type":"Host-Parasite","x":0.623,"y":0.821},
{"mech":"Decreasing","col":"2","type":"Host-Parasite","x":0.542,"y":0.807},
{"mech":"Decreasing","col":"2","type":"Host-Parasite","x":0.747,"y":0.839},
{"mech":"Decreasing","col":"2","type":"Host-Parasite","x":0.807,"y":0.842},
{"mech":"Decreasing","col":"2","type":"Host-Parasite","x":0.437,"y":0.904},
{"mech":"Decreasing","col":"2","type":"Host-Parasite","x":0.623,"y":0.916},
{"mech":"Decreasing","col":"2","type":"Host-Parasite","x":0.516,"y":0.866},
{"mech":"Decreasing","col":"2","type":"Plant-Ant","x":0.571,"y":0.985},
{"mech":"Decreasing","col":"2","type":"Plant-Ant","x":0.50,"y":0.951},
{"mech":"Decreasing","col":"2","type":"Plant-Herbivore","x":0.239,"y":0.882},
{"mech":"Decreasing","col":"2","type":"Plant-Herbivore","x":0.204,"y":0.846},
{"mech":"Decreasing","col":"2","type":"Plant-Herbivore","x":0.516,"y":0.924}
]},
"data": {"name": "pts"},
"facet": {
  "row": {"field": "mech", "type": "nominal", "sort": ["Random", "Decreasing", "Increasing"],
    "header": {"title": "Extinction mechanism", "titleOrient": "left", "titleFont": "DejaVu Sans", "titleFontSize": 23.5, "titleFontWeight": "normal", "titleColor": "#333", "titlePadding": 21,
      "labelOrient": "left", "labelAngle": 0, "labelAlign": "left", "labelFont": "DejaVu Sans", "labelFontSize": 23.5, "labelColor": "#333", "labelPadding": 25}},
  "column": {"field": "col", "type": "nominal", "sort": ["all", "1", "2"],
    "header": {"title": null,
      "labelOrient": "bottom", "labelFont": "DejaVu Sans", "labelFontSize": 23.5, "labelColor": "#333", "labelPadding": 23}}
},
"spacing": {"row": 23, "column": 25},
"spec": {
  "width": 240,
  "height": 131,
  "mark": {"type": "circle", "size": 115, "opacity": 1, "stroke": "white", "strokeWidth": 1},
  "encoding": {
    "x": {"field": "x", "type": "quantitative", "scale": {"domain": [-0.05, 1.05], "nice": false, "zero": false},
      "axis": {"values": [0, 0.2, 0.4, 0.6, 0.8, 1], "format": ".1f", "title": null}},
    "y": {"field": "y", "type": "quantitative", "scale": {"domain": [0.778, 1.024], "nice": false, "zero": false},
      "axis": {"values": [0.8, 0.85, 0.9, 0.95, 1], "format": ".2f", "title": null}},
    "color": {"field": "type", "type": "nominal",
      "scale": {"domain": ["Host-Parasite", "Plant-Ant", "Seed Dispersal", "Plant-Herbivore", "Pollination"],
                "range": ["#648FFF", "#DC267F", "#FFB000", "#785EF0", "#FE6100"]},
      "legend": {"title": null, "orient": "none", "direction": "horizontal", "legendX": -203, "legendY": -58, "columns": 3, "labelFont": "DejaVu Sans", "labelFontSize": 17, "labelColor": "#222", "symbolSize": 150, "symbolType": "circle", "symbolStrokeColor": "#eee", "symbolStrokeWidth": 1, "columnPadding": 4, "rowPadding": 7, "labelOffset": 5}}
  }
},
"config": {
  "font": "DejaVu Sans",
  "view": {"stroke": "#333", "strokeWidth": 1.5},
  "axis": {"grid": true, "gridColor": "#e3e3e3", "gridWidth": 1.5, "domain": false, "ticks": false, "labelFont": "DejaVu Sans", "labelFontSize": 15.5, "labelColor": "#222", "labelPadding": 5},
  "axisX": {"labelPadding": 8}
}
}
